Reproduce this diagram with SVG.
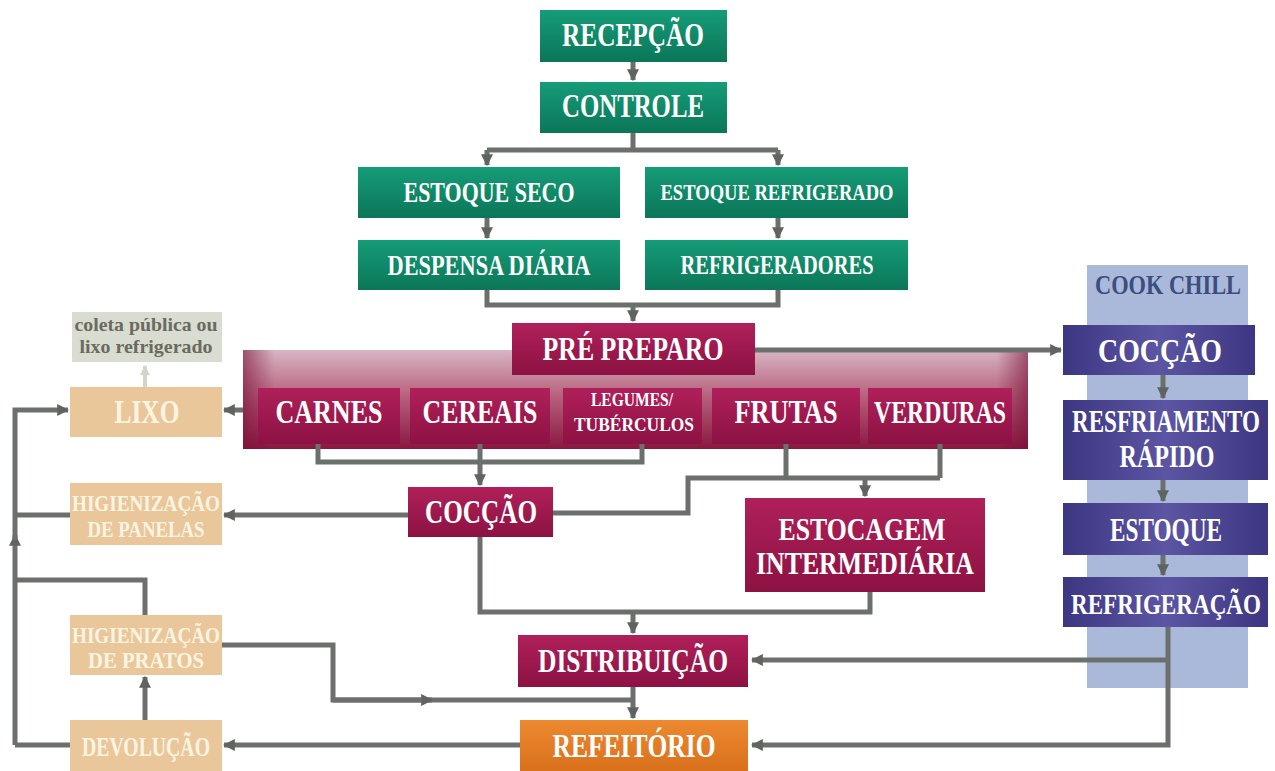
<svg xmlns="http://www.w3.org/2000/svg" width="1275" height="771" viewBox="0 0 1275 771">
<defs>
<linearGradient id="gGreen" x1="0" y1="0" x2="0" y2="1">
<stop offset="0" stop-color="#169c78"/><stop offset="1" stop-color="#0b7658"/>
</linearGradient>
<linearGradient id="gCrim" x1="0" y1="0" x2="0" y2="1">
<stop offset="0" stop-color="#b0205a"/><stop offset="1" stop-color="#8c1242"/>
</linearGradient>
<linearGradient id="gBand" x1="0" y1="0" x2="0" y2="1">
<stop offset="0" stop-color="#d6b6c2"/><stop offset="0.45" stop-color="#b8637f"/><stop offset="1" stop-color="#8a1740"/>
</linearGradient>
<linearGradient id="gBandH" x1="0" y1="0" x2="1" y2="0">
<stop offset="0" stop-color="#7a1038" stop-opacity="0.6"/><stop offset="0.04" stop-color="#7a1038" stop-opacity="0"/><stop offset="0.96" stop-color="#7a1038" stop-opacity="0"/><stop offset="1" stop-color="#7a1038" stop-opacity="0.6"/>
</linearGradient>
<linearGradient id="gPurp" x1="0" y1="0" x2="1" y2="0">
<stop offset="0" stop-color="#3d3682"/><stop offset="0.5" stop-color="#5b55a3"/><stop offset="1" stop-color="#3d3682"/>
</linearGradient>
<linearGradient id="gOrange" x1="0" y1="0" x2="0" y2="1">
<stop offset="0" stop-color="#ec8a30"/><stop offset="1" stop-color="#d9701c"/>
</linearGradient>
<marker id="ah" viewBox="0 0 10 10" refX="9" refY="5" markerWidth="12" markerHeight="12" markerUnits="userSpaceOnUse" orient="auto">
<path d="M0,0 L10,5 L0,10 z" fill="#5f6461"/>
</marker>
<marker id="ahL" viewBox="0 0 10 10" refX="9" refY="5" markerWidth="10" markerHeight="10" markerUnits="userSpaceOnUse" orient="auto">
<path d="M0,0 L10,5 L0,10 z" fill="#d2d6c8"/>
</marker>
</defs>
<style>
text{font-family:"Liberation Serif","DejaVu Serif",serif;font-weight:bold;text-anchor:middle;fill:#ffffff}
.green{fill:url(#gGreen)}
.crim{fill:url(#gCrim)}
.purp{fill:url(#gPurp)}
.tan{fill:#e9c79a}
.tan-t{fill:#fdf4e2}
.conn path{fill:none;stroke:#6b706c;stroke-width:5}
.arr{marker-end:url(#ah)}
</style>
<rect width="1275" height="771" fill="#ffffff"/>

<g id="cookchill">
<rect x="1087" y="265" width="161" height="423" fill="#aab9d9"/>
<text x="1168" y="294" font-size="28" textLength="146" lengthAdjust="spacingAndGlyphs" style="fill:#3b4e80">COOK CHILL</text>
</g>

<g id="band">
<rect x="243" y="350" width="785" height="99" fill="url(#gBand)"/>
<rect x="243" y="350" width="785" height="99" fill="url(#gBandH)"/>
</g>

<g class="conn" id="connectors">
<path class="arr" d="M633,62 V80"/>
<path d="M633,133 V150 M487,150 H778"/>
<path class="arr" d="M487,150 V165"/>
<path class="arr" d="M778,150 V165"/>
<path class="arr" d="M487,218 V238"/>
<path class="arr" d="M778,218 V238"/>
<path d="M487,290 V305 H778 V290"/>
<path class="arr" d="M633,305 V321"/>
<path class="arr" d="M755,350 H1061"/>
<path class="arr" d="M243,410 H224"/>
<path d="M318,444 V462 H642 V444"/>
<path class="arr" d="M480,444 V485"/>
<path d="M786,444 V478 M940,444 V478 M553,513 H688 V478 H940"/>
<path class="arr" d="M865,478 V496"/>
<path class="arr" d="M408,515 H224"/>
<path d="M70,515 H15"/>
<path d="M480,537 V612 H870 V592"/>
<path class="arr" d="M633,612 V633"/>
<path class="arr" d="M633,687 V718"/>
<path d="M222,645 H333 V700 H633"/>
<path class="arr" d="M333,700 H432"/>
<path class="arr" d="M1168,627 V745 H752"/>
<path class="arr" d="M1168,660 H752"/>
<path class="arr" d="M520,745 H224"/>
<path class="arr" d="M145,720 V677"/>
<path d="M145,615 V580 H15"/>
<path class="arr" d="M15,745 H70 M15,745 V535"/>
<path class="arr" d="M15,540 V410 H68"/>
<path d="M145,387 V366" style="stroke:#d2d6c8;stroke-width:4;marker-end:url(#ahL)"/>
<path class="arr" d="M1163,375 V398"/>
<path class="arr" d="M1163,480 V501"/>
<path class="arr" d="M1163,555 V575"/>
</g>

<g id="recepcao"><rect class="green" x="540" y="10" width="187" height="52"/>
<text x="633" y="46" font-size="33" textLength="142" lengthAdjust="spacingAndGlyphs">RECEPÇÃO</text></g>
<g id="controle"><rect class="green" x="540" y="82" width="187" height="51"/>
<text x="633" y="117" font-size="33" textLength="142" lengthAdjust="spacingAndGlyphs">CONTROLE</text></g>
<g id="estoque-seco"><rect class="green" x="358" y="167" width="262" height="51"/>
<text x="489" y="202" font-size="30" textLength="171" lengthAdjust="spacingAndGlyphs">ESTOQUE SECO</text></g>
<g id="estoque-refrigerado"><rect class="green" x="645" y="167" width="263" height="51"/>
<text x="777" y="200" font-size="23" textLength="233" lengthAdjust="spacingAndGlyphs">ESTOQUE REFRIGERADO</text></g>
<g id="despensa"><rect class="green" x="358" y="240" width="262" height="50"/>
<text x="489" y="275" font-size="30" textLength="203" lengthAdjust="spacingAndGlyphs">DESPENSA DIÁRIA</text></g>
<g id="refrigeradores"><rect class="green" x="645" y="240" width="263" height="50"/>
<text x="777" y="274" font-size="27" textLength="193" lengthAdjust="spacingAndGlyphs">REFRIGERADORES</text></g>

<g id="pre-preparo"><rect class="crim" x="512" y="323" width="243" height="52"/>
<text x="633" y="360" font-size="34" textLength="181" lengthAdjust="spacingAndGlyphs">PRÉ PREPARO</text></g>
<g id="carnes"><rect class="crim" x="258" y="388" width="142" height="56"/>
<text x="329" y="423" font-size="34" textLength="107" lengthAdjust="spacingAndGlyphs">CARNES</text></g>
<g id="cereais"><rect class="crim" x="410" y="388" width="140" height="56"/>
<text x="480" y="423" font-size="34" textLength="115" lengthAdjust="spacingAndGlyphs">CEREAIS</text></g>
<g id="legumes"><rect class="crim" x="563" y="388" width="139" height="56"/>
<text x="632" y="406" font-size="19" textLength="82" lengthAdjust="spacingAndGlyphs">LEGUMES/</text>
<text x="634" y="431" font-size="19" textLength="120" lengthAdjust="spacingAndGlyphs">TUBÉRCULOS</text></g>
<g id="frutas"><rect class="crim" x="712" y="388" width="148" height="56"/>
<text x="786" y="423" font-size="34" textLength="103" lengthAdjust="spacingAndGlyphs">FRUTAS</text></g>
<g id="verduras"><rect class="crim" x="868" y="388" width="144" height="56"/>
<text x="940" y="423" font-size="32" textLength="132" lengthAdjust="spacingAndGlyphs">VERDURAS</text></g>

<g id="coccao"><rect class="crim" x="408" y="487" width="145" height="50"/>
<text x="481" y="523" font-size="33" textLength="112" lengthAdjust="spacingAndGlyphs">COCÇÃO</text></g>
<g id="estocagem"><rect class="crim" x="745" y="498" width="240" height="94"/>
<text x="862" y="540" font-size="32" textLength="167" lengthAdjust="spacingAndGlyphs">ESTOCAGEM</text>
<text x="865" y="574" font-size="32" textLength="218" lengthAdjust="spacingAndGlyphs">INTERMEDIÁRIA</text></g>
<g id="distribuicao"><rect class="crim" x="518" y="635" width="230" height="52"/>
<text x="633" y="672" font-size="33" textLength="190" lengthAdjust="spacingAndGlyphs">DISTRIBUIÇÃO</text></g>
<g id="refeitorio"><rect x="520" y="720" width="228" height="51" fill="url(#gOrange)"/>
<text x="634" y="757" font-size="33" textLength="163" lengthAdjust="spacingAndGlyphs">REFEITÓRIO</text></g>

<g id="coleta"><rect x="72" y="312" width="150" height="50" fill="#d9dcd0"/>
<text x="146" y="331" font-size="19" textLength="143" lengthAdjust="spacingAndGlyphs" style="fill:#6a6b60">coleta pública ou</text>
<text x="146" y="353" font-size="19" textLength="133" lengthAdjust="spacingAndGlyphs" style="fill:#6a6b60">lixo refrigerado</text></g>
<g id="lixo"><rect class="tan" x="70" y="387" width="152" height="50"/>
<text class="tan-t" x="147" y="423" font-size="33" textLength="65" lengthAdjust="spacingAndGlyphs">LIXO</text></g>
<g id="hig-panelas"><rect class="tan" x="70" y="483" width="152" height="62"/>
<text class="tan-t" x="146" y="511" font-size="23" textLength="148" lengthAdjust="spacingAndGlyphs">HIGIENIZAÇÃO</text>
<text class="tan-t" x="146" y="537" font-size="23" textLength="117" lengthAdjust="spacingAndGlyphs">DE PANELAS</text></g>
<g id="hig-pratos"><rect class="tan" x="70" y="615" width="152" height="60"/>
<text class="tan-t" x="146" y="643" font-size="23" textLength="148" lengthAdjust="spacingAndGlyphs">HIGIENIZAÇÃO</text>
<text class="tan-t" x="146" y="668" font-size="23" textLength="116" lengthAdjust="spacingAndGlyphs">DE PRATOS</text></g>
<g id="devolucao"><rect class="tan" x="70" y="720" width="152" height="51"/>
<text class="tan-t" x="146" y="756" font-size="28" textLength="128" lengthAdjust="spacingAndGlyphs">DEVOLUÇÃO</text></g>

<g id="cc-coccao"><rect class="purp" x="1063" y="325" width="192" height="50"/>
<text x="1160" y="362" font-size="33" textLength="124" lengthAdjust="spacingAndGlyphs">COCÇÃO</text></g>
<g id="cc-resfriamento"><rect class="purp" x="1063" y="400" width="205" height="80"/>
<text x="1166" y="432" font-size="31" textLength="188" lengthAdjust="spacingAndGlyphs">RESFRIAMENTO</text>
<text x="1167" y="467" font-size="31" textLength="95" lengthAdjust="spacingAndGlyphs">RÁPIDO</text></g>
<g id="cc-estoque"><rect class="purp" x="1063" y="503" width="205" height="52"/>
<text x="1166" y="541" font-size="33" textLength="112" lengthAdjust="spacingAndGlyphs">ESTOQUE</text></g>
<g id="cc-refrigeracao"><rect class="purp" x="1063" y="577" width="205" height="50"/>
<text x="1166" y="614" font-size="30" textLength="190" lengthAdjust="spacingAndGlyphs">REFRIGERAÇÃO</text></g>
</svg>
